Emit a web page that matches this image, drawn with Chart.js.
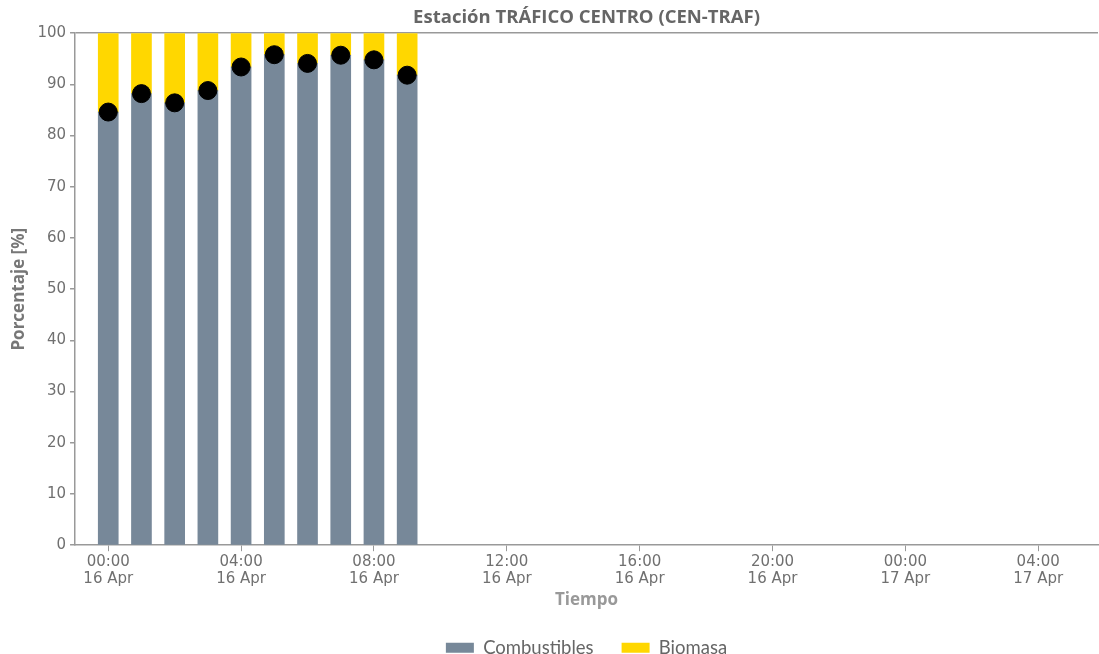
<!DOCTYPE html>
<html>
<head>
<meta charset="utf-8">
<script src="https://cdn.jsdelivr.net/npm/chart.js@4/dist/chart.umd.min.js"></script>
<style>
  body { margin: 0; background: #fff; overflow: hidden; }
  #wrap { width: 1108px; height: 654px; }
</style>
</head>
<body>
<div id="wrap"><canvas id="chart"></canvas></div>
<script>
// hours since 00:00 16 Apr
const hours = [0, 1, 2, 3, 4, 5, 6, 7, 8, 9];
const combustibles = [84.6, 88.2, 86.4, 88.8, 93.4, 95.8, 94.1, 95.7, 94.8, 91.8];
const biomasa = [15.4, 11.8, 13.6, 11.2, 6.6, 4.2, 5.9, 4.3, 5.2, 8.2];
const tickHours = [0, 4, 8, 12, 16, 20, 24, 28];
const tickLabels = [
    ["00:00", "16 Apr"], ["04:00", "16 Apr"], ["08:00", "16 Apr"], ["12:00", "16 Apr"],
    ["16:00", "16 Apr"], ["20:00", "16 Apr"], ["00:00", "17 Apr"], ["04:00", "17 Apr"]
];

const toPoints = vals => vals.map((v, i) => ({ x: hours[i], y: v }));

const axisColor = "#999";
const tickColor = "#707070";
const tickFont = { family: "DejaVu Sans", size: 15, lineHeight: 1.13 };

new Chart(document.getElementById("chart"), {
    type: "bar",
    data: {
        datasets: [
            {
                type: "scatter",
                label: "dots",
                data: toPoints(combustibles),
                backgroundColor: "#000",
                borderColor: "#000",
                pointRadius: 9,
                pointHoverRadius: 9,
                stack: "dots",
                order: 0
            },
            {
                label: "Combustibles",
                data: toPoints(combustibles),
                backgroundColor: "#778899",
                barThickness: 20,
                order: 1
            },
            {
                label: "Biomasa",
                data: toPoints(biomasa),
                backgroundColor: "#FFD700",
                barThickness: 20,
                order: 1
            }
        ]
    },
    options: {
        responsive: true,
        maintainAspectRatio: false,
        animation: false,
        layout: { padding: { left: 9, right: 0, top: 0, bottom: -13 } },
        plugins: {
            title: {
                display: true,
                fullSize: false,
                text: "Estación TRÁFICO CENTRO (CEN-TRAF)",
                color: "#666",
                font: { family: "Open Sans", size: 18.5, weight: "bold" },
                padding: { top: 7, bottom: 4 }
            },
            legend: {
                position: "bottom",
                fullSize: false,
                labels: {
                    filter: item => item.text !== "dots",
                    boxWidth: 28,
                    boxHeight: 10,
                    color: "#666",
                    font: { family: "Lato", size: 18.5 },
                    padding: 28
                }
            },
            tooltip: { enabled: false }
        },
        scales: {
            x: {
                type: "linear",
                stacked: true,
                offset: false,
                min: -1,
                max: 29.8,
                afterBuildTicks: axis => { axis.ticks = tickHours.map(v => ({ value: v })); },
                ticks: {
                    color: tickColor,
                    font: tickFont,
                    maxRotation: 0,
                    padding: 2,
                    callback: value => tickLabels[tickHours.indexOf(value)]
                },
                grid: { offset: false, drawOnChartArea: false, drawTicks: true, tickLength: 6, color: axisColor },
                border: { color: axisColor, width: 1.5 },
                title: {
                    display: true,
                    text: "Tiempo",
                    color: "#999",
                    font: { family: "Open Sans", size: 17, weight: "bold" },
                    padding: { top: 1, bottom: 0 }
                }
            },
            y: {
                stacked: true,
                min: 0,
                max: 100,
                ticks: { stepSize: 10, color: tickColor, font: tickFont, padding: 4 },
                grid: {
                    drawTicks: true,
                    tickLength: 5,
                    color: ctx => (ctx.tick && ctx.tick.value === 100 ? axisColor : "rgba(0,0,0,0)"),
                    tickColor: axisColor,
                    lineWidth: 1.5
                },
                border: { color: axisColor, width: 1.5 },
                title: {
                    display: true,
                    text: "Porcentaje [%]",
                    color: "#777",
                    font: { family: "Open Sans", size: 17, weight: "bold" },
                    padding: { top: 0, bottom: 4 }
                }
            }
        }
    }
});
</script>
</body>
</html>
